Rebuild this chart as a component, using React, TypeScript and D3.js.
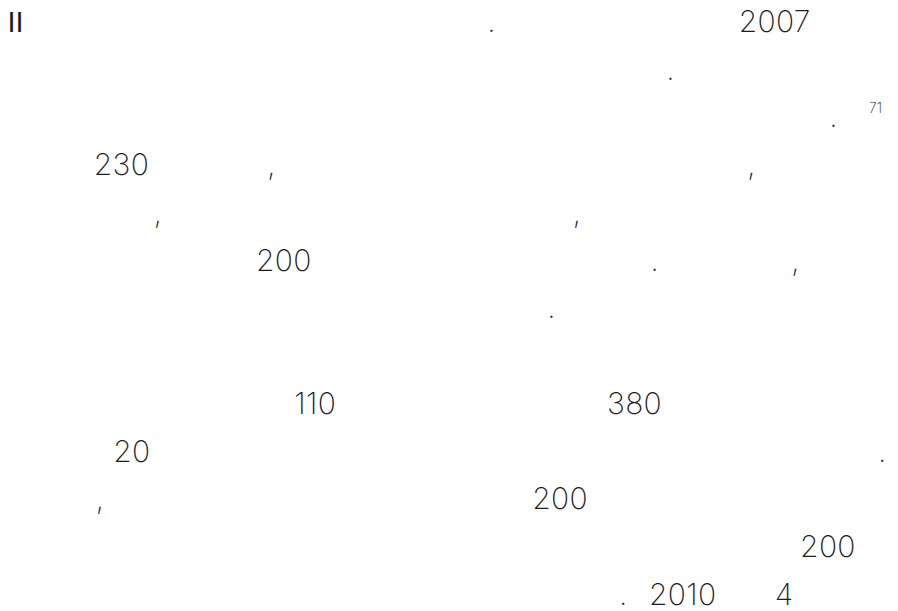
import React from "react";
import * as d3 from "d3";

// Text lines of the page (only the glyphs that render), with column offsets (in character cells)
type Token = { text: string; col: number; sup?: boolean; roman?: boolean };

const line0: Token[] = [
  { text: "II", col: 0.25, roman: true },
  { text: ".", col: 16.35 },
  { text: "2007", col: 24.75 },
];
const line1: Token[] = [{ text: ".", col: 22.33 }];
const line2: Token[] = [
  { text: ".", col: 27.77 },
  { text: "71", col: 29.1, sup: true },
];
const line3: Token[] = [
  { text: "230", col: 3.2 },
  { text: ",", col: 9.0 },
  { text: ",", col: 25.03 },
];
const line4: Token[] = [
  { text: ",", col: 5.2 },
  { text: ",", col: 19.2 },
];
const line5: Token[] = [
  { text: "200", col: 8.62 },
  { text: ".", col: 21.8 },
  { text: ",", col: 26.5 },
];
const line6: Token[] = [{ text: ".", col: 18.35 }];
const line7: Token[] = [];
const line8: Token[] = [
  { text: "110", col: 9.9 },
  { text: "380", col: 20.35 },
];
const line9: Token[] = [
  { text: "20", col: 3.85 },
  { text: ".", col: 29.4 },
];
const line10: Token[] = [
  { text: ",", col: 3.27 },
  { text: "200", col: 17.85 },
];
const line11: Token[] = [{ text: "200", col: 26.8 }];
const line12: Token[] = [
  { text: ".", col: 20.75 },
  { text: "2010", col: 21.75 },
  { text: "4", col: 25.95 },
];

const lines: Token[][] = [
  line0, line1, line2, line3, line4, line5, line6,
  line7, line8, line9, line10, line11, line12,
];

const W = 898;
const H = 611;

export default function App() {
  const x = d3.scaleLinear().domain([0, 1]).range([0, 29.93]);
  const y = d3.scaleLinear().domain([0, 11]).range([32, 557]);

  return (
    <svg
      width={W}
      height={H}
      style={{ position: "fixed", top: 0, left: 0, background: "#fff", display: "block" }}
    >
      <rect width={W} height={H} fill="#fff" />
      {lines.map((tokens, li) =>
        tokens.map((t, ti) => (
          <text
            key={`${li}-${ti}`}
            x={x(t.col) - (t.roman ? 0 : 2)}
            y={y(li) + (t.sup ? -14 : 0)}
            fill="#1e1e1e"
            fontFamily={t.roman ? "'Liberation Sans', Arial, sans-serif" : "Inter, 'Noto Sans', sans-serif"}
            fontWeight={t.roman ? 400 : 250}
            fontSize={t.sup ? 14 : t.roman ? 29 : 30}
            letterSpacing={t.roman || t.sup ? 0 : 0.3}
          >
            {t.text}
          </text>
        ))
      )}
    </svg>
  );
}
